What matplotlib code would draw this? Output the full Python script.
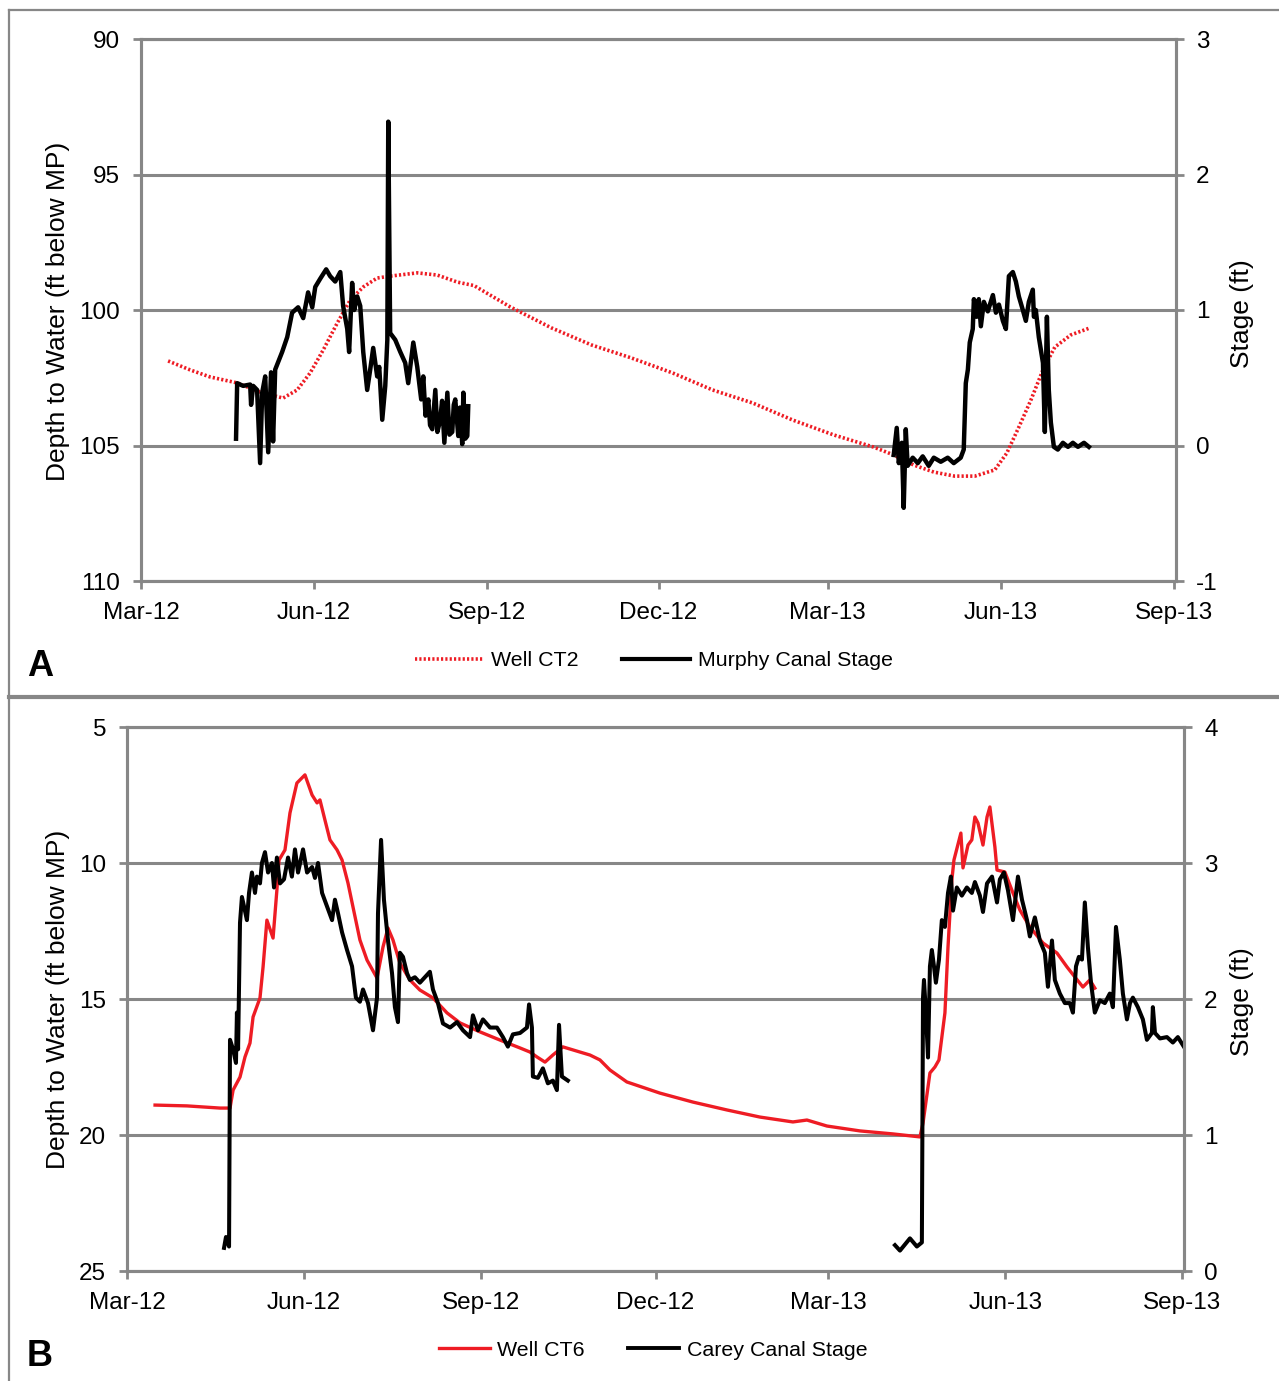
import numpy as np
import pandas as pd
import matplotlib
matplotlib.use("Agg")
import matplotlib.pyplot as plt
import matplotlib.dates as mdates
from matplotlib.lines import Line2D

plt.rcParams['font.family'] = ['Liberation Sans', 'DejaVu Sans']
plt.rcParams['axes.unicode_minus'] = False

START = pd.Timestamp('2012-03-01')

# ---- Panel A: Well CT2 depth (ft below MP) and Murphy Canal stage (ft)
a_well_day = [14.4, 26.1, 36.7, 51.1, 63.3, 75.5, 83.0, 89.9, 96.8, 104.3, 111.2, 118.1,
              125.5, 132.4, 146.8, 157.4, 168.1, 177.0, 196.3, 218.1, 239.4, 260.6, 282.4,
              303.7, 325.0, 346.3, 368.1, 389.4, 400.0, 410.6, 421.3, 432.4, 443.1, 453.7,
              460.1, 466.5, 472.9, 479.3, 485.6, 494.1, 504.3]
a_well_depth = [101.88, 102.21, 102.47, 102.69, 103.03, 103.25, 102.95, 102.32, 101.48, 100.48,
                99.63, 99.15, 98.82, 98.75, 98.63, 98.71, 98.97, 99.10, 99.89, 100.66, 101.29,
                101.77, 102.32, 102.95, 103.43, 104.06, 104.61, 105.06, 105.35, 105.72, 105.98,
                106.13, 106.13, 105.90, 105.28, 104.32, 103.32, 102.21, 101.37, 100.92, 100.66]

a_stage_day1 = [50.5, 51.1, 54.3, 58.0, 58.5, 59.6, 61.7, 63.3, 64.4, 66.0, 67.6, 69.1, 70.2,
                71.3, 75.0, 77.7, 80.3, 83.5, 86.2, 88.8, 91.0, 92.6, 95.2, 98.4, 100.5, 103.2,
                105.9, 107.4, 109.6, 110.6, 112.2, 113.3, 114.9, 116.5, 118.1, 120.2, 121.8,
                123.4, 125.5, 126.6, 128.2, 129.8, 130.9, 131.4, 132.4, 135.1, 137.8, 140.4,
                142.0, 144.7, 146.8, 148.9, 150.0, 151.2, 152.7, 153.6, 154.8, 156.4, 157.5,
                159.0, 160.0, 161.2, 162.8, 163.9, 165.4, 166.2, 167.0, 168.6, 169.5, 170.7,
                171.3, 172.3, 173.4, 173.9]
a_stage_ft1 = [0.05, 0.46, 0.44, 0.45, 0.30, 0.44, 0.41, -0.13, 0.39, 0.51, -0.05, 0.54, 0.03,
               0.56, 0.69, 0.80, 0.98, 1.02, 0.94, 1.13, 1.02, 1.17, 1.23, 1.30, 1.25, 1.21,
               1.28, 1.03, 0.86, 0.69, 1.20, 1.00, 1.10, 1.03, 0.69, 0.41, 0.56, 0.72, 0.51,
               0.58, 0.19, 0.44, 0.78, 2.39, 0.83, 0.78, 0.69, 0.61, 0.46, 0.76, 0.58, 0.34,
               0.51, 0.22, 0.34, 0.15, 0.12, 0.41, 0.10, 0.19, 0.33, 0.02, 0.39, 0.08, 0.10,
               0.30, 0.34, 0.07, 0.28, 0.01, 0.39, 0.05, 0.07, 0.29]
a_stage_day2 = [400.0, 401.6, 402.7, 404.3, 405.3, 406.4, 407.4, 410.1, 412.8, 415.4, 418.6,
                421.3, 425.0, 428.7, 431.9, 435.6, 437.2, 438.3, 439.4, 440.4, 442.0, 442.6,
                444.1, 445.2, 446.3, 447.9, 450.0, 452.7, 454.3, 455.9, 458.0, 459.6, 461.2,
                463.3, 464.9, 466.5, 468.6, 470.2, 471.8, 473.9, 474.5, 475.5, 477.1, 479.3,
                480.3, 481.4, 482.4, 483.5, 485.1, 487.2, 489.9, 492.6, 495.2, 497.9, 501.1,
                503.7]
a_stage_ft2 = [-0.07, 0.13, -0.13, 0.02, -0.46, 0.12, -0.15, -0.09, -0.13, -0.08, -0.15, -0.09,
               -0.12, -0.09, -0.13, -0.09, -0.03, 0.46, 0.56, 0.76, 0.86, 1.08, 0.95, 1.08,
               0.88, 1.06, 0.99, 1.11, 0.98, 1.04, 0.92, 0.86, 1.25, 1.28, 1.21, 1.10, 1.00,
               0.92, 1.06, 1.15, 0.95, 1.00, 0.80, 0.61, 0.10, 0.95, 0.41, 0.17, -0.01, -0.03,
               0.02, -0.01, 0.02, -0.01, 0.02, -0.01]

# ---- Panel B: Well CT6 depth (ft below MP) and Carey Canal stage (ft)
b_well_day = [14.6, 31.2, 48.4, 53.6, 55.2, 58.8, 61.4, 64.0, 65.6, 69.2, 70.8, 72.8, 76.0,
              78.0, 79.1, 82.2, 84.8, 88.4, 92.6, 96.3, 98.9, 100.4, 103.0, 105.6, 109.3,
              111.9, 115.0, 117.6, 121.2, 124.9, 130.1, 133.2, 135.8, 138.4, 142.0, 147.2,
              152.4, 159.2, 166.5, 173.3, 183.7, 194.1, 204.5, 209.7, 213.3, 217.5, 221.6,
              226.8, 235.7, 240.9, 246.1, 251.3, 260.1, 277.3, 294.5, 312.2, 329.3, 346.5,
              353.8, 364.2, 381.4, 398.5, 412.6, 414.2, 417.8, 420.4, 422.5, 425.6, 427.2,
              429.2, 430.3, 433.9, 435.0, 437.6, 439.6, 441.2, 442.8, 445.4, 447.5, 449.0,
              451.6, 452.7, 456.8, 461.0, 464.6, 469.8, 476.6, 483.9, 489.1, 493.2, 497.4,
              501.0, 503.6]
b_well_depth = [18.90, 18.93, 19.01, 19.01, 18.35, 17.87, 17.13, 16.62, 15.66, 14.96, 13.82,
                12.10, 12.76, 10.99, 9.89, 9.52, 8.16, 7.06, 6.76, 7.50, 7.79, 7.68, 8.42, 9.15,
                9.52, 9.89, 10.74, 11.62, 12.83, 13.57, 14.23, 13.09, 12.39, 12.83, 13.68,
                14.30, 14.67, 14.96, 15.51, 15.88, 16.21, 16.51, 16.80, 16.95, 17.13, 17.32,
                17.06, 16.76, 16.95, 17.06, 17.24, 17.61, 18.05, 18.46, 18.79, 19.08, 19.34,
                19.52, 19.45, 19.67, 19.85, 19.96, 20.07, 19.56, 17.72, 17.50, 17.24, 15.51,
                13.09, 10.63, 9.89, 8.90, 10.18, 9.34, 9.15, 8.31, 8.53, 9.34, 8.31, 7.94, 9.41,
                10.26, 10.33, 11.10, 11.73, 12.35, 12.94, 13.31, 13.82, 14.19, 14.56, 14.30,
                14.60]

b_stage_day1 = [50.5, 51.5, 53.1, 53.6, 55.2, 56.7, 57.2, 57.8, 58.8, 59.8, 60.9, 62.4, 63.5,
                65.0, 66.6, 67.6, 69.2, 70.2, 71.8, 73.4, 75.4, 76.5, 78.0, 79.6, 81.7, 83.8,
                85.8, 87.4, 89.0, 91.6, 93.7, 96.3, 97.8, 99.4, 101.5, 104.1, 106.7, 108.2,
                109.8, 111.9, 114.5, 117.1, 119.1, 121.2, 122.8, 125.4, 128.0, 130.1, 130.6,
                132.2, 133.7, 135.8, 137.9, 139.4, 141.0, 142.0, 143.6, 145.7, 147.2, 149.8,
                152.4, 155.0, 157.6, 159.2, 161.8, 164.4, 168.1, 171.7, 174.8, 178.5, 180.0,
                182.6, 185.2, 188.9, 192.5, 195.6, 198.2, 200.8, 204.5, 208.1, 209.2, 210.7,
                211.2, 213.8, 216.4, 219.0, 221.6, 223.7, 224.8, 226.3, 229.4]
b_stage_ft1 = [0.17, 0.25, 0.18, 1.70, 1.63, 1.53, 1.90, 1.63, 2.56, 2.75, 2.68, 2.58, 2.78,
               2.93, 2.78, 2.90, 2.85, 3.00, 3.08, 2.93, 3.00, 2.82, 3.04, 2.85, 2.88, 3.04,
               2.90, 3.10, 2.93, 3.10, 2.93, 2.97, 2.89, 3.00, 2.78, 2.68, 2.58, 2.73, 2.63,
               2.49, 2.36, 2.24, 2.01, 1.98, 2.07, 1.97, 1.77, 2.01, 2.63, 3.17, 2.73, 2.43,
               2.19, 1.94, 1.83, 2.34, 2.31, 2.19, 2.14, 2.16, 2.12, 2.16, 2.20, 2.07, 1.97,
               1.82, 1.79, 1.83, 1.77, 1.72, 1.88, 1.77, 1.85, 1.79, 1.79, 1.72, 1.65, 1.74,
               1.75, 1.79, 1.96, 1.79, 1.43, 1.42, 1.49, 1.38, 1.40, 1.33, 1.81, 1.43, 1.40]
b_stage_day2 = [399.6, 402.2, 407.4, 411.0, 413.6, 414.2, 414.7, 415.7, 416.8, 417.8, 418.8,
                419.9, 420.9, 422.5, 424.0, 425.6, 427.2, 428.7, 429.8, 431.8, 434.4, 437.0,
                439.6, 441.2, 443.8, 445.4, 447.5, 450.1, 452.7, 454.2, 456.3, 458.4, 461.0,
                463.6, 465.7, 468.3, 469.8, 472.4, 475.0, 477.6, 479.2, 481.3, 482.8, 485.4,
                488.0, 490.6, 492.2, 493.8, 495.3, 496.9, 498.4, 500.0, 501.6, 503.6, 506.2,
                508.8, 511.4, 513.0, 514.6, 516.6, 518.2, 520.3, 521.9, 523.4, 526.0, 528.6,
                530.7, 533.3, 533.8, 534.9, 537.5, 541.1, 544.2, 546.8, 549.9]
b_stage_ft2 = [0.19, 0.15, 0.24, 0.18, 0.21, 2.01, 2.14, 1.90, 1.57, 2.24, 2.36, 2.24, 2.12,
               2.29, 2.58, 2.53, 2.78, 2.90, 2.65, 2.82, 2.76, 2.82, 2.78, 2.86, 2.76, 2.64,
               2.85, 2.90, 2.71, 2.88, 2.93, 2.80, 2.58, 2.90, 2.73, 2.58, 2.46, 2.60, 2.43,
               2.34, 2.09, 2.43, 2.14, 2.04, 1.97, 1.97, 1.90, 2.24, 2.31, 2.29, 2.71, 2.38,
               2.12, 1.90, 1.99, 1.97, 2.04, 1.94, 2.53, 2.29, 2.04, 1.85, 1.97, 2.01, 1.94,
               1.85, 1.70, 1.75, 1.94, 1.75, 1.71, 1.72, 1.68, 1.72, 1.65]

GRAY = '#878787'
RED = '#ee1c24'
FS = 17.5      # tick labels
FS_TITLE = 19  # axis titles
FS_LEG = 15.4
W, H = 1279, 1381


def to_dates(days):
    return START + pd.to_timedelta(np.asarray(days, dtype=float), unit='D')


def style_panel(ax, ax2, left_lim, left_ticks, right_lim, right_ticks):
    ax.set_ylim(*left_lim)
    ax.set_yticks(left_ticks)
    ax2.set_ylim(*right_lim)
    ax2.set_yticks(right_ticks)
    ax.set_xlim(START, START + pd.Timedelta(days=550))
    ax.xaxis.set_major_locator(mdates.MonthLocator(bymonth=[3, 6, 9, 12]))
    ax.xaxis.set_major_formatter(mdates.DateFormatter('%b-%y'))
    ax.yaxis.grid(True, color=GRAY, linewidth=2.2)
    ax.set_axisbelow(True)
    for a in (ax, ax2):
        for s in a.spines.values():
            s.set_color(GRAY)
            s.set_linewidth(2.2)
        a.tick_params(axis='both', direction='out', length=5.5, width=2, color=GRAY,
                      labelsize=FS, labelcolor='black')
    ax.tick_params(axis='y', pad=9.5)
    ax.tick_params(axis='x', pad=9.5)
    ax2.tick_params(axis='y', pad=9)


fig = plt.figure(figsize=(W / 100, H / 100), dpi=100)

# Panel A
axA = fig.add_axes([141 / W, 1 - 581 / H, (1176 - 141) / W, (581 - 39) / H])
axA2 = axA.twinx()
style_panel(axA, axA2, (110, 90), [90, 95, 100, 105, 110], (-1, 3), [-1, 0, 1, 2, 3])
axA.plot(to_dates(a_well_day), a_well_depth, color=RED, linestyle=(0, (0.6, 0.6)),
         linewidth=2.6)
axA2.plot(to_dates(a_stage_day1), a_stage_ft1, color='black', linewidth=3.2)
axA2.plot(to_dates(a_stage_day2), a_stage_ft2, color='black', linewidth=3.2)

# Panel B
axB = fig.add_axes([127 / W, 1 - 1271 / H, (1184 - 127) / W, (1271 - 727) / H])
axB2 = axB.twinx()
style_panel(axB, axB2, (25, 5), [5, 10, 15, 20, 25], (0, 4), [0, 1, 2, 3, 4])
axB.plot(to_dates(b_well_day), b_well_depth, color=RED, linewidth=2.4)
axB2.plot(to_dates(b_stage_day1), b_stage_ft1, color='black', linewidth=2.9)
axB2.plot(to_dates(b_stage_day2), b_stage_ft2, color='black', linewidth=2.9)

# axis titles
for yc in (311, 999):
    fig.text(58 / W, 1 - yc / H, 'Depth to Water (ft below MP)', rotation=90,
             ha='center', va='center', fontsize=FS_TITLE)
    fig.text(1242 / W, 1 - (yc + 3) / H, 'Stage (ft)', rotation=90,
             ha='center', va='center', fontsize=FS_TITLE)

# legends
legA = [Line2D([], [], color=RED, linestyle=(0, (0.6, 0.6)), linewidth=2.6),
        Line2D([], [], color='black', linewidth=3)]
fig.legend(legA, ['Well CT2', 'Murphy Canal Stage'], loc='center', ncol=2,
           bbox_to_anchor=(654 / W, 1 - 661 / H), frameon=False, fontsize=FS_LEG,
           handlelength=3.2, handletextpad=0.35, columnspacing=2.0)
legB = [Line2D([], [], color=RED, linewidth=2.4),
        Line2D([], [], color='black', linewidth=2.8)]
fig.legend(legB, ['Well CT6', 'Carey Canal Stage'], loc='center', ncol=2,
           bbox_to_anchor=(653 / W, 1 - 1350 / H), frameon=False, fontsize=FS_LEG,
           handlelength=2.4, handletextpad=0.35, columnspacing=2.0)

# panel letters
fig.text(40 / W, 1 - 666 / H, 'A', fontsize=26, fontweight='bold', ha='center', va='center')
fig.text(40 / W, 1 - 1356 / H, 'B', fontsize=26, fontweight='bold', ha='center', va='center')

# panel frames
frame = dict(color=GRAY, transform=fig.transFigure)
fig.add_artist(Line2D([9 / W, 1], [1 - 10 / H, 1 - 10 / H], linewidth=1.6, **frame))
fig.add_artist(Line2D([9 / W, 9 / W], [1 - 10 / H, 1 - 697 / H], linewidth=1.6, **frame))
fig.add_artist(Line2D([9 / W, 9 / W], [1 - 697 / H, 0], linewidth=1.6, **frame))
fig.add_artist(Line2D([9 / W, 1], [1 - 697 / H, 1 - 697 / H], linewidth=3, **frame))

fig.savefig('out.png', dpi=100)
